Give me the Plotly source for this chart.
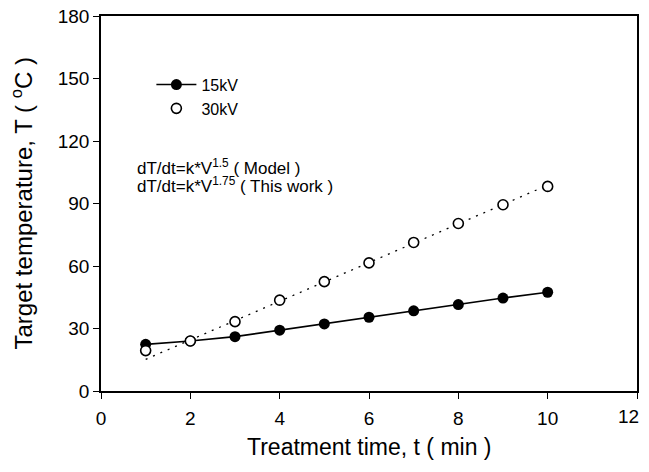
import plotly.graph_objects as go

# datos
t_min = [1, 2, 3, 4, 5, 6, 7, 8, 9, 10]
temp_15kv = [22.4, 24.0, 26.1, 29.2, 32.2, 35.4, 38.5, 41.5, 44.6, 47.4]
temp_30kv = [19.4, 24.0, 33.3, 43.6, 52.5, 61.5, 71.3, 80.4, 89.4, 98.2]

# recta de ajuste (punteada) para 30kV, extremos
fit_t = [1, 10]
fit_30kv = [15.2, 98.8]

x_ticks = [0, 2, 4, 6, 8, 10, 12]
x_ticktext = ['0', '2', '4', '6', '8', '10', '']  # el 12 va como anotacion para que no se corte
y_ticks = [0, 30, 60, 90, 120, 150, 180]

fnt = "Arial, 'Liberation Sans', sans-serif"

fig = go.Figure()

# recta punteada
fig.add_trace(go.Scatter(x=fit_t, y=fit_30kv, mode='lines', showlegend=False,
                         line=dict(color='black', width=1.3, dash='2px,6px')))

# 15kV
fig.add_trace(go.Scatter(x=t_min, y=temp_15kv, mode='lines+markers', name='15kV',
                         line=dict(color='black', width=1.6),
                         marker=dict(size=11, color='black', symbol='circle')))

# 30kV
fig.add_trace(go.Scatter(x=t_min, y=temp_30kv, mode='markers', name='30kV',
                         marker=dict(size=10, color='white', symbol='circle',
                                     line=dict(color='black', width=1.6))))

fig.add_annotation(x=0.76, y=107.7, xref='x', yref='y', xanchor='left', yanchor='middle',
                   text="dT/dt=k*V<sup>1.5</sup> ( Model )", showarrow=False,
                   font=dict(size=17, color='black', family=fnt))
fig.add_annotation(x=0.76, y=99.0, xref='x', yref='y', xanchor='left', yanchor='middle',
                   text="dT/dt=k*V<sup>1.75</sup> ( This work )", showarrow=False,
                   font=dict(size=17, color='black', family=fnt))

# etiqueta del 12
fig.add_annotation(x=x_ticks[-1], y=0, xref='x', yref='y', xanchor='right', yanchor='top',
                   xshift=4, yshift=-13, text=str(x_ticks[-1]), showarrow=False,
                   font=dict(size=19, color='black', family=fnt))

# titulos de los ejes como anotaciones (posicion fija)
fig.add_annotation(x=0.5, y=0, xref='paper', yref='paper', xanchor='center', yanchor='middle',
                   yshift=-56, text="Treatment time, t ( min )", showarrow=False,
                   font=dict(size=23, color='black', family=fnt))
fig.add_annotation(x=0, y=0.5, xref='paper', yref='paper', xanchor='center', yanchor='middle',
                   xshift=-80, textangle=-90, text="Target temperature, T ( <sup>o</sup>C )",
                   showarrow=False, font=dict(size=24, color='black', family=fnt))

# el body del html tiene 8px de margen: figura mas pequena para que no salgan barras
fig.update_layout(
    width=633, height=456,
    margin=dict(l=93, r=4, t=8, b=73),
    plot_bgcolor='white', paper_bgcolor='white',
    font=dict(family=fnt, color='black', size=19),
    legend=dict(x=0.094, y=0.785, xanchor='left', yanchor='middle',
                bgcolor='rgba(0,0,0,0)', font=dict(size=16), itemwidth=40,
                tracegroupgap=0),
    xaxis=dict(
        range=[0, 12], tickvals=x_ticks, ticktext=x_ticktext, ticks='outside', ticklen=6,
        tickwidth=1.2, tickcolor='black', showline=True, linecolor='black', linewidth=1.5,
        mirror=True, showgrid=False, zeroline=False, ticklabelstandoff=3,
        ticklabeloverflow='allow', automargin=False
    ),
    yaxis=dict(
        range=[0, 180], tickvals=y_ticks, ticks='outside', ticklen=6, tickwidth=1.2,
        tickcolor='black', showline=True, linecolor='black', linewidth=1.5,
        mirror=True, showgrid=False, zeroline=False,
        ticksuffix='\u00a0\u00a0\u00a0\u00a0', ticklabeloverflow='allow', automargin=False
    ),
)

fig.write_html("out.html")
